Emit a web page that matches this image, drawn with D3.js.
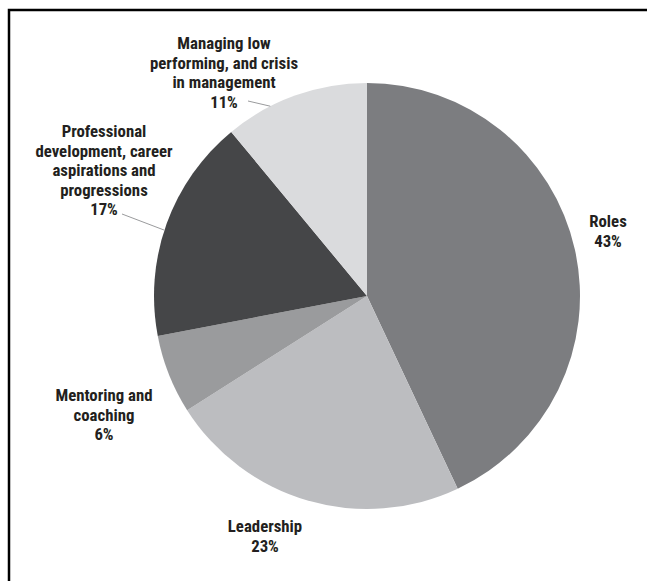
<!DOCTYPE html>
<html>
<head>
<meta charset="utf-8">
<script src="https://cdn.jsdelivr.net/npm/d3@7/dist/d3.min.js"></script>
<style>
  html, body { margin: 0; padding: 0; background: #ffffff; }
  svg { display: block; }
  .lbl { font-family: "Liberation Sans Narrow", "Arial Narrow", "Roboto Condensed", sans-serif; font-weight: bold; font-size: 16.8px; fill: #231f20; }
</style>
</head>
<body>
<svg id="chart" width="647" height="581"></svg>
<script>
// Topic shares, clockwise from 12 o'clock
const categories = ["Roles", "Leadership", "Mentoring and coaching", "Professional development, career aspirations and progressions", "Managing low performing, and crisis in management"];
const values = [43, 23, 6, 17, 11];
const labelLines = [
  ["Roles"],
  ["Leadership"],
  ["Mentoring and", "coaching"],
  ["Professional", "development, career", "aspirations and", "progressions"],
  ["Managing low", "performing, and crisis", "in management"]
];
const sliceColors = ["#7c7d80", "#bcbdc0", "#9a9b9d", "#454648", "#dadbdd"];

// Label placement (centre x, first-line y) and optional leader lines
const labelPos = [
  { x: 608, y: 227 },
  { x: 265, y: 532 },
  { x: 104, y: 401 },
  { x: 104, y: 137 },
  { x: 224, y: 49 }
];
const leaders = [null, null, null,
  { from: [122, 214], angleDeg: 288 },
  { from: [248, 101], angleDeg: 333 }
];

const svg = d3.select("#chart");
const cx = 367, cy = 296, radius = 213;
const lineH = 19.5;

// Frame
svg.append("path")
  .attr("d", "M9,581 V10 H647")
  .attr("fill", "none")
  .attr("stroke", "#000")
  .attr("stroke-width", 2.5);

const pie = d3.pie().sort(null).value(d => d)(values);
const arc = d3.arc().innerRadius(0).outerRadius(radius);

const g = svg.append("g").attr("transform", `translate(${cx},${cy})`);
g.selectAll("path.slice")
  .data(pie)
  .join("path")
  .attr("class", "slice")
  .attr("d", arc)
  .attr("fill", (d, i) => sliceColors[i]);

// Leader lines
leaders.forEach(l => {
  if (!l) return;
  const a = l.angleDeg * Math.PI / 180;
  const ex = cx + radius * Math.sin(a);
  const ey = cy - radius * Math.cos(a);
  svg.append("line")
    .attr("x1", l.from[0]).attr("y1", l.from[1])
    .attr("x2", ex).attr("y2", ey)
    .attr("stroke", "#9a9b9d")
    .attr("stroke-width", 1);
});

// Labels with percentages
labelLines.forEach((lines, i) => {
  const t = svg.append("text")
    .attr("class", "lbl")
    .attr("text-anchor", "middle")
    .attr("x", labelPos[i].x)
    .attr("y", labelPos[i].y);
  lines.concat([values[i] + "%"]).forEach((s, k) => {
    t.append("tspan")
      .attr("x", labelPos[i].x)
      .attr("dy", k === 0 ? 0 : lineH)
      .text(s);
  });
});
</script>
</body>
</html>
